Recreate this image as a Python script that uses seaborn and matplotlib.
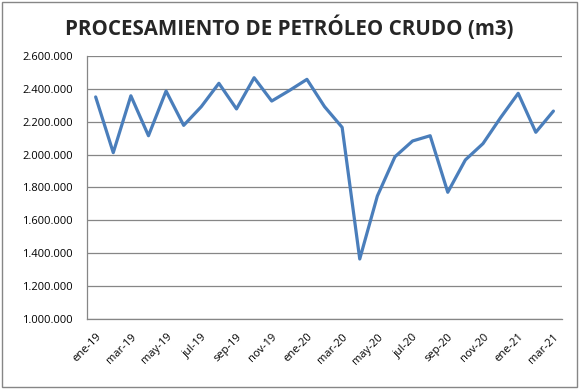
import numpy as np
import pandas as pd
import seaborn as sns
import matplotlib.pyplot as plt
from matplotlib.ticker import FuncFormatter
from matplotlib.patches import Rectangle

# Monthly data, ene-19 .. mar-21
meses = ["ene-19", "feb-19", "mar-19", "abr-19", "may-19", "jun-19", "jul-19",
         "ago-19", "sep-19", "oct-19", "nov-19", "dic-19",
         "ene-20", "feb-20", "mar-20", "abr-20", "may-20", "jun-20", "jul-20",
         "ago-20", "sep-20", "oct-20", "nov-20", "dic-20",
         "ene-21", "feb-21", "mar-21"]
volumen = [2351000, 2012000, 2358000, 2115000, 2387000, 2178000, 2292000,
           2434000, 2278000, 2468000, 2326000, 2390000,
           2458000, 2292000, 2166000, 1365000, 1748000, 1987000, 2083000,
           2115000, 1771000, 1968000, 2067000, 2225000,
           2373000, 2136000, 2265000]

df = pd.DataFrame({"mes": meses, "m3": volumen})
df["idx"] = np.arange(len(df))

sns.set_style("white")
plt.rcParams["font.family"] = ["Open Sans", "DejaVu Sans"]

fig = plt.figure(figsize=(5.79, 3.89), dpi=100)
ax = fig.add_axes([0.150, 0.180, 0.821, 0.676])

sns.lineplot(data=df, x="idx", y="m3", ax=ax, color="#4A7EBB", linewidth=2.3)

ax.set_xlim(-0.5, len(df) - 0.5)
ax.set_ylim(1000000, 2600000)
ax.set_yticks(np.arange(1000000, 2600001, 200000))
ax.yaxis.set_major_formatter(FuncFormatter(lambda v, p: f"{int(v):,}".replace(",", ".")))
ax.set_xticks(df["idx"][::2])
ax.set_xticklabels(df["mes"][::2], rotation=45, ha="right", rotation_mode="anchor")
ax.tick_params(axis="both", labelsize=8, length=0, labelcolor="black")
ax.tick_params(axis="y", pad=10)
ax.tick_params(axis="x", pad=9)
ax.grid(axis="y", color="#868686", linewidth=0.9)
ax.set_axisbelow(True)
for side in ["top", "right"]:
    ax.spines[side].set_visible(False)
for side in ["left", "bottom"]:
    ax.spines[side].set_color("#868686")
    ax.spines[side].set_linewidth(0.9)
ax.set_xlabel("")
ax.set_ylabel("")

fig.text(0.50, 0.928, "PROCESAMIENTO DE PETRÓLEO CRUDO (m3)", ha="center",
         va="center", fontsize=14.8, fontweight="bold")

# chart border
fig.patches.append(Rectangle((0.003, 0.005), 0.994, 0.99, transform=fig.transFigure,
                             fill=False, edgecolor="#868686", linewidth=1.0))

fig.savefig("out.png", dpi=100)
